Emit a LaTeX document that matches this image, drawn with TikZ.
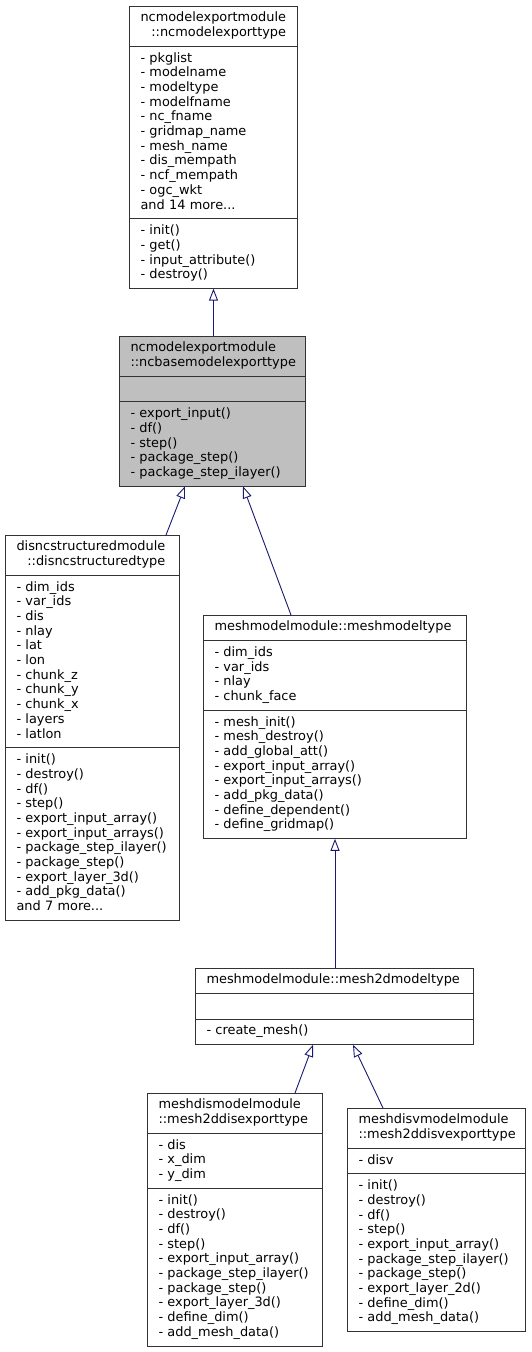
\documentclass[tikz,border=0pt]{standalone}
\usepackage{fontspec}
\setmainfont{DejaVu Sans}
\usetikzlibrary{shapes.multipart, arrows.meta}
\definecolor{edgeblue}{HTML}{191970}
\definecolor{basegray}{HTML}{BFBFBF}
\newcommand{\clsname}[2]{\begin{tabular}{@{}l@{}}#1\\\hfill#2\hfill\end{tabular}}
\newcommand{\clsline}[1]{\begin{tabular}{@{}c@{}}#1\end{tabular}}
\newcommand{\members}[1]{\begin{tabular}{@{}l@{}}#1\end{tabular}}

\begin{document}
\begin{tikzpicture}[x=1pt, y=-1pt,
        cls/.style={draw=black!80, line width=0.9pt, fill=white, rectangle split, rectangle split parts=3,
            text width=#1, inner xsep=11pt, inner ysep=5pt, outer sep=0pt, anchor=north, align=left,
            font=\fontsize{12.9}{14.7}\selectfont},
        inherit/.style={draw=edgeblue, line width=0.9pt, -{Triangle[open, length=12pt, width=9pt]}}
    ]
        \useasboundingbox (0,0) rectangle (532,1352);

        % Top class
        \node[cls=146pt] (ncexport) at (213.5,6) {\centering\clsname{ncmodelexportmodule}{::ncmodelexporttype}
            \nodepart{two}\members{- pkglist\\- modelname\\- modeltype\\- modelfname\\- nc\_fname\\- gridmap\_name\\- mesh\_name\\- dis\_mempath\\- ncf\_mempath\\- ogc\_wkt\\and 14 more...}
            \nodepart{three}\members{- init()\\- get()\\- input\_attribute()\\- destroy()}};

        % Base class (highlighted)
        \node[cls=164pt, fill=basegray] (ncbase) at (212.5,336) {\centering\clsname{ncmodelexportmodule}{::ncbasemodelexporttype}
            \nodepart{two}\strut
            \nodepart{three}\members{- export\_input()\\- df()\\- step()\\- package\_step()\\- package\_step\_ilayer()}};

        % Structured grid
        \node[cls=152pt] (disnc) at (92.5,535) {\centering\clsname{disncstructuredmodule}{::disncstructuredtype}
            \nodepart{two}\members{- dim\_ids\\- var\_ids\\- dis\\- nlay\\- lat\\- lon\\- chunk\_z\\- chunk\_y\\- chunk\_x\\- layers\\- latlon}
            \nodepart{three}\members{- init()\\- destroy()\\- df()\\- step()\\- export\_input\_array()\\- export\_input\_arrays()\\- package\_step\_ilayer()\\- package\_step()\\- export\_layer\_3d()\\- add\_pkg\_data()\\and 7 more...}};

        % Mesh model
        \node[cls=241pt] (meshmodel) at (335,615) {\centering\clsline{meshmodelmodule::meshmodeltype}
            \nodepart{two}\members{- dim\_ids\\- var\_ids\\- nlay\\- chunk\_face}
            \nodepart{three}\members{- mesh\_init()\\- mesh\_destroy()\\- add\_global\_att()\\- export\_input\_array()\\- export\_input\_arrays()\\- add\_pkg\_data()\\- define\_dependent()\\- define\_gridmap()}};

        % 2D mesh model
        \node[cls=256pt] (mesh2d) at (334.5,968) {\centering\clsline{meshmodelmodule::mesh2dmodeltype}
            \nodepart{two}\strut
            \nodepart{three}\members{- create\_mesh()}};

        % Exporters
        \node[cls=153pt] (meshdis) at (235,1093) {\centering\clsname{meshdismodelmodule}{::mesh2ddisexporttype}
            \nodepart{two}\members{- dis\\- x\_dim\\- y\_dim}
            \nodepart{three}\members{- init()\\- destroy()\\- df()\\- step()\\- export\_input\_array()\\- package\_step\_ilayer()\\- package\_step()\\- export\_layer\_3d()\\- define\_dim()\\- add\_mesh\_data()}};
        \node[cls=156pt] (meshdisv) at (436.5,1108) {\centering\clsname{meshdisvmodelmodule}{::mesh2ddisvexporttype}
            \nodepart{two}\members{- disv}
            \nodepart{three}\members{- init()\\- destroy()\\- df()\\- step()\\- export\_input\_array()\\- package\_step\_ilayer()\\- package\_step()\\- export\_layer\_2d()\\- define\_dim()\\- add\_mesh\_data()}};

        % Inheritance
        \draw[inherit] ([xshift=1pt]ncbase.north) -- (ncexport.south);
        \draw[inherit] ([xshift=73.5pt]disnc.north) -- ([xshift=-27.5pt]ncbase.south);
        \draw[inherit] ([xshift=-44pt]meshmodel.north) -- ([xshift=30.5pt]ncbase.south);
        \draw[inherit] ([xshift=0.5pt]mesh2d.north) -- (meshmodel.south);
        \draw[inherit] ([xshift=60pt]meshdis.north) -- ([xshift=-21.5pt]mesh2d.south);
        \draw[inherit] ([xshift=-53.5pt]meshdisv.north) -- ([xshift=18.5pt]mesh2d.south);
    \end{tikzpicture}
\end{document}
